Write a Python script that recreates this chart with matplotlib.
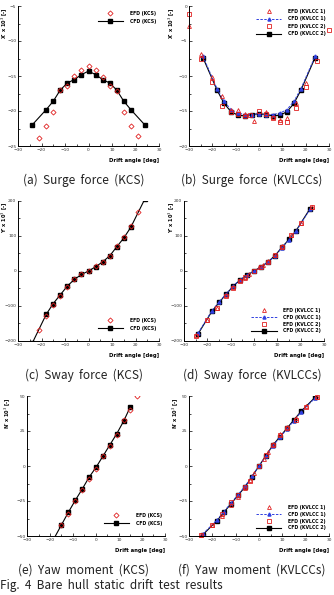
import matplotlib
matplotlib.use('Agg')
import matplotlib.pyplot as plt
from matplotlib.ticker import MultipleLocator

W, H = 334, 595

# ---- KCS ----
kcs_efd_x = [-21, -18, -15, -12, -9, -6, -3, 0, 3, 6, 9, 12, 15, 18, 21]
kcs_efd_surge = [-23.8, -22.2, -20.1, -17.0, -16.4, -15.0, -14.1, -13.6,
                 -14.1, -15.1, -16.4, -17.1, -20.1, -22.2, -23.6]
kcs_efd_sway = [-170, -130, -97, -71, -46, -24, -10, -1, 13, 25, 44, 70, 98, 128, 168]
kcs_cfd_x = [-24, -18, -15, -12, -9, -6, -3, 0, 3, 6, 9, 12, 15, 18, 24]
kcs_cfd_surge = [-22.0, -19.8, -18.6, -17.0, -16.0, -15.5, -14.8, -14.3,
                 -14.8, -15.5, -16.0, -17.0, -18.6, -19.8, -22.0]
kcs_cfd_sway = [-207, -124, -93, -68, -43, -24, -10, 0, 12, 26, 43, 69, 94, 125, 206]

kcs_efd_yaw_x = [-15, -12, -9, -6, -3, 0, 3, 6, 9, 12, 15, 18]
kcs_efd_yaw = [-42, -34, -25, -17, -9, -2, 7, 14, 22, 33, 40, 50]
kcs_cfd_yaw_x = [-18, -15, -12, -9, -6, -3, 0, 3, 6, 9, 12, 15]
kcs_cfd_yaw = [-51, -42, -33, -24.5, -16.5, -8, -1, 7, 15, 23, 32, 42.5]

# ---- KVLCC ----
kv_cfd_x = [-24, -18, -15, -12, -9, -6, -3, 0, 3, 6, 9, 12, 15, 18, 24]
kv1_cfd_surge = [-7.2, -11.8, -13.6, -14.8, -15.3, -15.5, -15.5, -15.4,
                 -15.5, -15.5, -15.3, -14.8, -13.6, -11.8, -7.2]
kv2_cfd_surge = [-7.4, -12.0, -13.9, -15.1, -15.6, -15.7, -15.5, -15.4,
                 -15.5, -15.7, -15.6, -15.1, -13.9, -12.0, -7.4]
kv1_cfd_sway = [-178, -113, -89, -66, -43, -25, -12, 0, 12, 25, 43, 67, 89, 114, 176]
kv2_cfd_sway = [-180, -115, -90, -67, -44, -26, -12, 0, 12, 26, 44, 68, 90, 115, 178]
kv1_cfd_yaw = [-48.5, -38.5, -32.5, -26.5, -20.5, -14.5, -7.3, 0,
               7.3, 14.5, 20.5, 26.5, 32.5, 38.5, 48.5]
kv2_cfd_yaw = [-49, -39, -33, -27, -21, -15, -7.5, 0, 7.5, 15, 21, 27, 33, 39, 49]

kv1_efd_surge_x = [-30, -25, -20, -16, -12, -9, -6, -2, 3, 6, 9, 12, 16, 20]
kv1_efd_surge = [-2.9, -6.8, -10.2, -12.9, -14.8, -14.9, -15.4, -16.4,
                 -15.2, -15.8, -16.3, -16.0, -13.8, -11.0]
kv2_efd_surge_x = [-30, -25, -20, -16, -12, -9, -6, -4, 0, 3, 6, 9, 12, 16, 20, 25, 30]
kv2_efd_surge = [-1.2, -7.6, -10.9, -14.3, -15.2, -15.4, -15.7, -15.6, -15.0,
                 -15.4, -16.0, -16.5, -16.6, -14.6, -11.5, -7.9, -3.4]

kv1_efd_x = [-25, -20, -16, -12, -9, -6, -4, -2, 2, 4, 6, 9, 12, 16, 20, 25]
kv1_efd_sway = [-182, -139, -106, -70, -45, -25, -19, -10, 10, 16, 28, 46, 70, 104, 138, 183]
kv1_efd_yaw = [-49, -42, -36, -28, -22, -16, -10, -5, 5, 10, 16, 23, 28, 34, 43, 49]
kv2_efd_x = [-25, -20, -16, -12, -9, -6, -4, 0, 3, 6, 9, 12, 16, 20, 25]
kv2_efd_sway = [-187, -140, -105, -72, -48, -28, -17, -1, 12, 25, 45, 69, 104, 138, 183]
kv2_efd_yaw = [-49, -42, -34, -26, -21, -15, -11, 0, 8, 15, 22, 27, 33, 42, 49]

captions = ['(a)  Surge  force  (KCS)', '(b)  Surge  force  (KVLCCs)',
            '(c)  Sway  force  (KCS)', '(d)  Sway  force  (KVLCCs)',
            '(e)  Yaw  moment  (KCS)', '(f)  Yaw  moment  (KVLCCs)']
fig_caption = 'Fig.  4  Bare  hull  static  drift  test  results'

plt.rcParams['font.family'] = ['DejaVu Sans']
fig = plt.figure(figsize=(W / 100, H / 100), dpi=100)

def px_axes(l, t, r, b):
    return fig.add_axes([l / W, 1 - b / H, (r - l) / W, (b - t) / H])

def style(ax, ylim, ymaj, ylabel):
    ax.set_xlim(-30, 30)
    ax.set_ylim(*ylim)
    ax.xaxis.set_major_locator(MultipleLocator(10))
    ax.xaxis.set_minor_locator(MultipleLocator(5))
    ax.yaxis.set_major_locator(MultipleLocator(ymaj))
    ax.yaxis.set_minor_locator(MultipleLocator(ymaj / 2))
    for s in ['top', 'right']:
        ax.spines[s].set_visible(False)
    for s in ['left', 'bottom']:
        ax.spines[s].set_linewidth(0.7)
    ax.tick_params(which='both', direction='in', labelsize=3.2, width=0.5, pad=1.2,
                   labelcolor='#333333')
    ax.tick_params(which='major', length=2.5)
    ax.tick_params(which='minor', length=1.5)
    ax.set_xlabel('Drift angle [deg]', fontsize=3.8, fontweight='bold', ha='right')
    ax.xaxis.set_label_coords(1.0, -0.085)
    ax.set_ylabel(ylabel, fontsize=3.6, fontweight='bold')

efd_kcs = dict(ls='none', marker='D', ms=2.6, mfc='none', mec='#e02020', mew=0.6)
cfd_kcs = dict(color='black', lw=0.8, marker='s', ms=2.2)
efd_kv1 = dict(ls='none', marker='^', ms=2.8, mfc='none', mec='#e02020', mew=0.6, clip_on=False)
cfd_kv1 = dict(color='#3040e0', lw=0.7, ls='--', dashes=(2.5, 1.5), marker='^', ms=2.2)
efd_kv2 = dict(ls='none', marker='s', ms=2.6, mfc='none', mec='#e02020', mew=0.6, clip_on=False)
cfd_kv2 = dict(color='black', lw=0.8, marker='s', ms=2.2)

leg_kw = dict(frameon=False, handlelength=5.5, handletextpad=1.5, borderaxespad=0.2,
              prop={'size': 3.3, 'weight': 'bold'})

rows = [(6, 146), (201, 341), (396, 536)]
left_cols = [(18, 159), (18, 159), (27, 165)]
right_cols = [(189, 329), (184, 324), (189, 329)]
# right edge (px) of the rotated y labels
left_ylab_x = [10, 10, 13]
right_ylab_x = [177, 177, 181]

kcs_sets = [(kcs_efd_x, kcs_efd_surge, kcs_cfd_x, kcs_cfd_surge, (-25, -5), 5, "X' x 10$^3$ [-]"),
            (kcs_efd_x, kcs_efd_sway, kcs_cfd_x, kcs_cfd_sway, (-200, 200), 100, "Y' x 10$^3$ [-]"),
            (kcs_efd_yaw_x, kcs_efd_yaw, kcs_cfd_yaw_x, kcs_cfd_yaw, (-50, 50), 25, "N' x 10$^3$ [-]")]
kv_sets = [(kv1_efd_surge_x, kv1_efd_surge, kv2_efd_surge_x, kv2_efd_surge, kv1_cfd_surge, kv2_cfd_surge,
            (-20, 0), 5, "X' x 10$^3$ [-]"),
           (kv1_efd_x, kv1_efd_sway, kv2_efd_x, kv2_efd_sway, kv1_cfd_sway, kv2_cfd_sway,
            (-200, 200), 100, "Y' x 10$^3$ [-]"),
           (kv1_efd_x, kv1_efd_yaw, kv2_efd_x, kv2_efd_yaw, kv1_cfd_yaw, kv2_cfd_yaw,
            (-50, 50), 25, "N' x 10$^3$ [-]")]

kcs_leg_y = [0.985, 0.055, 0.055]
kv_leg_y = [1.0, 0.035, 0.02]

for i in range(3):
    t, b = rows[i]
    # KCS panel
    ex, ey, cx, cy, ylim, ymaj, ylab = kcs_sets[i]
    l, r = left_cols[i]
    ax = px_axes(l, t, r, b)
    me = slice(1, None) if i == 2 else None
    ax.plot(cx, cy, markevery=me, label='CFD (KCS)', **cfd_kcs)
    ax.plot(ex, ey, label='EFD (KCS)', **efd_kcs)
    style(ax, ylim, ymaj, ylab)
    ax.yaxis.set_label_coords((left_ylab_x[i] - l) / (r - l), 0.88)
    h, lab = ax.get_legend_handles_labels()
    ax.legend(h[::-1], lab[::-1], loc='upper right' if i == 0 else 'lower right',
              bbox_to_anchor=(1.0, kcs_leg_y[i]), labelspacing=0.6, **leg_kw)

    # KVLCC panel
    e1x, e1y, e2x, e2y, c1y, c2y, ylim, ymaj, ylab = kv_sets[i]
    l, r = right_cols[i]
    ax = px_axes(l, t, r, b)
    ax.plot(kv_cfd_x, c2y, label='CFD (KVLCC 2)', **cfd_kv2)
    ax.plot(kv_cfd_x, c1y, label='CFD (KVLCC 1)', **cfd_kv1)
    ax.plot(e1x, e1y, label='EFD (KVLCC 1)', **efd_kv1)
    ax.plot(e2x, e2y, label='EFD (KVLCC 2)', **efd_kv2)
    style(ax, ylim, ymaj, ylab)
    ax.yaxis.set_label_coords((right_ylab_x[i] - l) / (r - l), 0.88)
    h, lab = ax.get_legend_handles_labels()
    order = [2, 1, 3, 0]
    ax.legend([h[j] for j in order], [lab[j] for j in order],
              loc='upper right' if i == 0 else 'lower right',
              bbox_to_anchor=(1.0, kv_leg_y[i]), labelspacing=0.4 if i else 0.55, **leg_kw)

cap_font = ['Noto Sans CJK KR', 'DejaVu Sans']
cap_y = [180, 375, 570]
for i in range(3):
    fig.text(84 / W, 1 - cap_y[i] / H, captions[2 * i], fontsize=8.5, ha='center', va='center',
             family=cap_font, color='#222222')
    fig.text(252 / W, 1 - cap_y[i] / H, captions[2 * i + 1], fontsize=8.5, ha='center', va='center',
             family=cap_font, color='#222222')
fig.text(0 / W, 1 - 586 / H, fig_caption, fontsize=8.5,
         ha='left', va='center', family=cap_font, color='#222222')

fig.savefig('out.png', dpi=100)
